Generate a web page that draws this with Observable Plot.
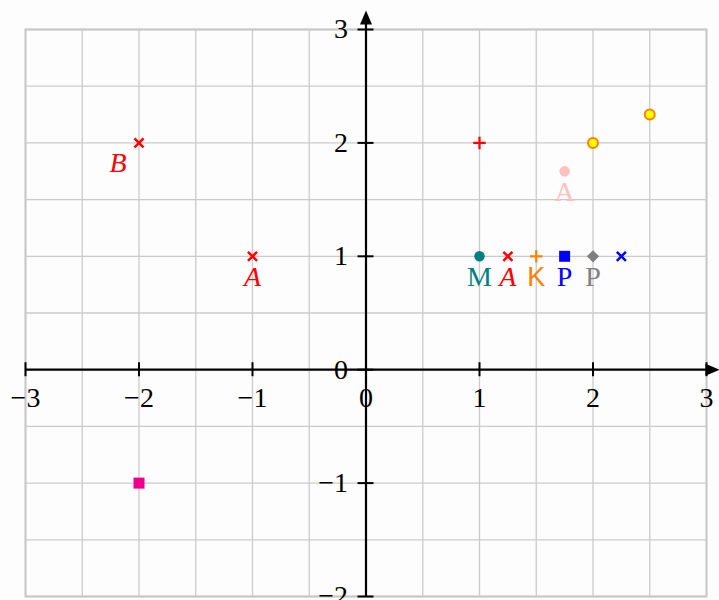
<!DOCTYPE html>
<html><head><meta charset="utf-8">
<script src="https://cdn.jsdelivr.net/npm/d3@7"></script>
<script src="https://cdn.jsdelivr.net/npm/@observablehq/plot@0.6"></script>
<style>html,body{margin:0;padding:0;background:#fdfdfd;overflow:hidden}</style>
</head><body><div id="chart"></div>
<script>
// Axis ticks and labels
const xTicks = [-3, -2, -1, 0, 1, 2, 3];
const xTickLabels = ["−3", "−2", "−1", "0", "1", "2", "3"];
const yTicks = [-2, -1, 0, 1, 2, 3];
const yTickLabels = ["−2", "−1", "0", "1", "2", "3"];
const gridX = [-3, -2.5, -2, -1.5, -1, -0.5, 0, 0.5, 1, 1.5, 2, 2.5, 3];
const gridY = [-2, -1.5, -1, -0.5, 0, 0.5, 1, 1.5, 2, 2.5, 3];

// Points
const redTimes = [[-2, 2], [-1, 1], [1.25, 1]];
const blueTimes = [[2.25, 1]];
const redPlus = [[1, 2]];
const orangePlus = [[1.5, 1]];
const tealCircle = [[1, 1]];
const pinkCircle = [[1.75, 1.75]];
const yellowCircles = [[2, 2], [2.5, 2.25]];
const blueSquare = [[1.75, 1]];
const magentaSquare = [[-2, -1]];
const grayDiamond = [[2, 1]];

// Labels (attached to points)
const labelB = [{x: -2, y: 2, text: "B"}];
const labelA1 = [{x: -1, y: 1, text: "A"}, {x: 1.25, y: 1, text: "A"}];
const labelPinkA = [{x: 1.75, y: 1.75, text: "A"}];
const labelM = [{x: 1, y: 1, text: "M"}];
const labelK = [{x: 1.5, y: 1, text: "K"}];
const labelPBlue = [{x: 1.75, y: 1, text: "P"}];
const labelPGray = [{x: 2, y: 1, text: "P"}];

const FONT = "'Liberation Serif', 'DejaVu Serif', serif";
const FS = 28;
const LDY = 21;

const upArrow = {draw(ctx) { ctx.moveTo(0, -7); ctx.lineTo(6, 7); ctx.lineTo(-6, 7); ctx.closePath(); }};
const rightArrow = {draw(ctx) { ctx.moveTo(7, 0); ctx.lineTo(-7, 6); ctx.lineTo(-7, -6); ctx.closePath(); }};

const chart = Plot.plot({
  width: 719,
  height: 600,
  marginLeft: 25,
  marginRight: 13,
  marginTop: 29,
  marginBottom: 4,
  x: {domain: [-3, 3], axis: null},
  y: {domain: [-2, 3], axis: null},
  style: {background: "transparent", fontFamily: FONT, overflow: "visible"},
  marks: [
    Plot.ruleX(gridX, {x: d => d, stroke: "#cbcbcb", strokeWidth: 1.3}),
    Plot.ruleY(gridY, {y: d => d, stroke: "#cbcbcb", strokeWidth: 1.3}),
    Plot.frame({stroke: "#c8c8c8", strokeWidth: 2}),
    // axes
    Plot.ruleY([0], {x1: -3, x2: 3, insetRight: -6, stroke: "black", strokeWidth: 2.2}),
    Plot.ruleX([0], {y1: -2, y2: 3, insetBottom: 6, stroke: "black", strokeWidth: 2.2}),
    Plot.dot([[3, 0]], {x: d => d[0], y: d => d[1], dx: 6, symbol: rightArrow, fill: "black", stroke: "none"}),
    Plot.dot([[0, 3]], {x: d => d[0], y: d => d[1], dy: -12, symbol: upArrow, fill: "black", stroke: "none"}),
    // ticks
    Plot.ruleX(xTicks, {x: d => d, y1: 0, y2: 0, insetTop: -7, insetBottom: -7, stroke: "black", strokeWidth: 2}),
    Plot.ruleY(yTicks, {y: d => d, x1: 0, x2: 0, insetLeft: -8, insetRight: -8, stroke: "black", strokeWidth: 2}),
    Plot.text(xTicks, {x: d => d, y: 0, text: (d, i) => xTickLabels[i], dy: 28, fontSize: FS, fill: "black"}),
    Plot.text(yTicks, {x: 0, y: d => d, text: (d, i) => yTickLabels[i], dx: -18, textAnchor: "end", fontSize: FS, fill: "black"}),
    // points
    Plot.dot(yellowCircles, {x: d => d[0], y: d => d[1], r: 5, fill: "#ffff00", stroke: "#ff8000", strokeWidth: 2}),
    Plot.dot(tealCircle, {x: d => d[0], y: d => d[1], r: 5.2, fill: "#008080", stroke: "none"}),
    Plot.dot(pinkCircle, {x: d => d[0], y: d => d[1], r: 5.2, fill: "#ffc0c0", stroke: "none"}),
    Plot.dot(blueSquare, {x: d => d[0], y: d => d[1], symbol: "square", r: 6.2, fill: "#0000ff", stroke: "none"}),
    Plot.dot(magentaSquare, {x: d => d[0], y: d => d[1], symbol: "square", r: 6.2, fill: "#ec008c", stroke: "none"}),
    Plot.dot(grayDiamond, {x: d => d[0], y: d => d[1], symbol: "square", r: 4.9, rotate: 45, fill: "#808080", stroke: "none"}),
    Plot.dot(redTimes, {x: d => d[0], y: d => d[1], symbol: "times", r: 4.2, stroke: "#ff0000", strokeWidth: 2.5, fill: "none"}),
    Plot.dot(blueTimes, {x: d => d[0], y: d => d[1], symbol: "times", r: 4.2, stroke: "#0000ff", strokeWidth: 2.5, fill: "none"}),
    Plot.dot(redPlus, {x: d => d[0], y: d => d[1], symbol: "plus", r: 4.1, stroke: "#ff0000", strokeWidth: 2.2, fill: "none"}),
    Plot.dot(orangePlus, {x: d => d[0], y: d => d[1], symbol: "plus", r: 4.1, stroke: "#ff8000", strokeWidth: 2.2, fill: "none"}),
    // labels
    Plot.text(labelB, {x: "x", y: "y", text: "text", dx: -21, dy: 20, fontSize: FS, fontStyle: "italic", fill: "#ff0000"}),
    Plot.text(labelA1, {x: "x", y: "y", text: "text", dy: LDY, fontSize: FS, fontStyle: "italic", fill: "#ff0000"}),
    Plot.text(labelPinkA, {x: "x", y: "y", text: "text", dy: LDY, fontSize: FS, fill: "#ffc0c0"}),
    Plot.text(labelM, {x: "x", y: "y", text: "text", dy: LDY, fontSize: FS, fill: "#008080"}),
    Plot.text(labelK, {x: "x", y: "y", text: "text", dy: LDY, fontSize: 27, fontFamily: "'Liberation Sans', sans-serif", fontWeight: 300, fill: "#ff8000"}),
    Plot.text(labelPBlue, {x: "x", y: "y", text: "text", dy: LDY, fontSize: FS, fill: "#0000ff"}),
    Plot.text(labelPGray, {x: "x", y: "y", text: "text", dy: LDY, fontSize: FS, fill: "#808080"})
  ]
});
document.getElementById("chart").appendChild(chart);
</script>
</body></html>
